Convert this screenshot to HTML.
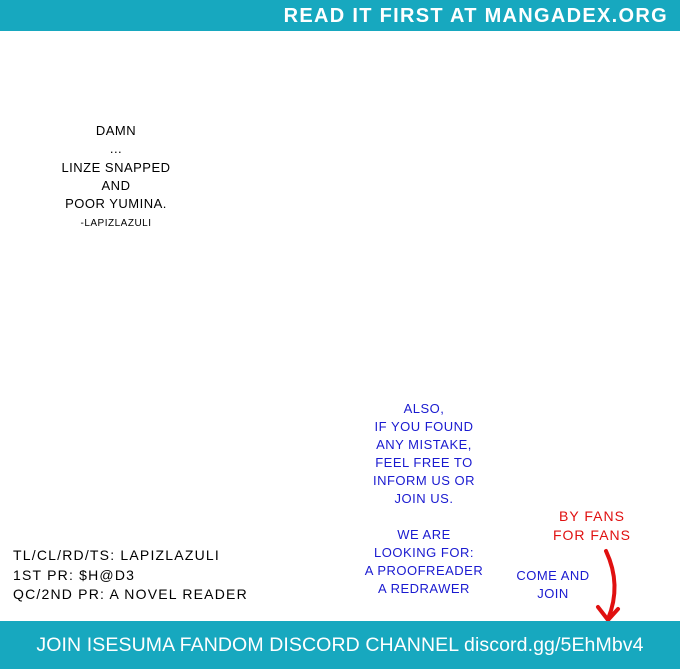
<!DOCTYPE html>
<html><head><meta charset="utf-8"><style>
body{margin:0;width:680px;height:669px;background:#fff;position:relative;overflow:hidden;font-family:"Liberation Sans",sans-serif;}
.t{position:absolute;white-space:nowrap;text-transform:uppercase;font-size:14px;line-height:18px;letter-spacing:0.5px}
.c{text-align:center}
</style></head><body>
<div style="position:absolute;left:0;top:0;width:680px;height:31px;background:#17a8bf"></div>
<div class="t" style="right:12px;top:4px;color:#fff;font-size:20px;line-height:24px;font-weight:bold;letter-spacing:1.3px">Read it first at mangadex.org</div>
<div class="t c" style="left:36px;width:160px;top:122px;color:#000;font-size:13px;line-height:18.3px">Damn<br>...<br>Linze snapped<br>and<br>poor Yumina.<br><span style="font-size:10px;line-height:14px">-Lapizlazuli</span></div>
<div class="t c" style="left:334px;width:180px;top:400px;color:#1a1ad0;font-size:13px;line-height:18px">Also,<br>if you found<br>any mistake,<br>feel free to<br>inform us or<br>join us.<br><br>We are<br>looking for:<br>a proofreader<br>a redrawer</div>
<div class="t" style="left:13px;top:546px;color:#000;font-size:14px;line-height:19.5px;letter-spacing:1.2px">TL/CL/RD/TS: Lapizlazuli<br>1st PR: $H@D3<br>QC/2nd PR: A novel reader</div>
<div class="t c" style="left:532px;width:120px;top:507px;color:#e01010;font-size:14px;line-height:19px;letter-spacing:1px">By fans<br>for fans</div>
<div class="t c" style="left:493px;width:120px;top:567px;color:#1a1ad0;font-size:13px;line-height:18px">Come and<br>join</div>
<svg style="position:absolute;left:590px;top:545px" width="40" height="80"><path d="M16 6 Q32 40 18 74" stroke="#e01010" stroke-width="4" fill="none" stroke-linecap="round"/><path d="M8 62 L18 75 L28 64" stroke="#e01010" stroke-width="4" fill="none" stroke-linecap="round"/></svg>
<div style="position:absolute;left:0;top:621px;width:680px;height:48px;background:#17a8bf"></div>
<div class="t c" style="left:0;width:680px;top:633px;color:#fff;font-size:19.5px;line-height:24px;text-transform:none;letter-spacing:0.1px">JOIN ISESUMA FANDOM DISCORD CHANNEL discord.gg/5EhMbv4</div>
</body></html>
